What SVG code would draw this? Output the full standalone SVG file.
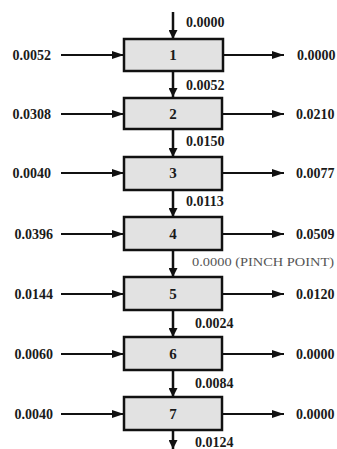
<svg xmlns="http://www.w3.org/2000/svg" width="337" height="449" viewBox="0 0 337 449">
<defs>
<marker id="ah" viewBox="0 0 12 8" refX="12" refY="4" markerWidth="12" markerHeight="8" markerUnits="userSpaceOnUse" orient="auto">
<path d="M0,0 L12,4 L0,8 Z" fill="#111"/>
</marker>
<marker id="av" viewBox="0 0 10 10" refX="10" refY="5" markerWidth="11" markerHeight="9" markerUnits="userSpaceOnUse" orient="auto">
<path d="M0,0 L10,5 L0,10 Z" fill="#111"/>
</marker>
</defs>
<style>
.box{fill:#e2e2e2;stroke:#111;stroke-width:2.5}
.lnk{stroke:#111;stroke-width:2;fill:none}
.v{stroke:#111;stroke-width:2.5;fill:none}
text{font-family:"Liberation Serif","Times New Roman",serif;font-weight:bold;font-size:14px;fill:#1a1a1a}
.num{text-anchor:middle;font-size:15px}
.l{text-anchor:end}
.pinch{font-weight:normal;font-size:12.5px;fill:#555}
</style>
<rect width="337" height="449" fill="#fff"/>
<g id="connectors">
<line class="v" x1="173" y1="12" x2="173" y2="39" marker-end="url(#av)"/>
<line class="v" x1="173" y1="71" x2="173" y2="97" marker-end="url(#av)"/>
<line class="v" x1="173" y1="129" x2="173" y2="157" marker-end="url(#av)"/>
<line class="v" x1="173" y1="190" x2="173" y2="217" marker-end="url(#av)"/>
<line class="v" x1="173" y1="250" x2="173" y2="277" marker-end="url(#av)"/>
<line class="v" x1="173" y1="310" x2="173" y2="337" marker-end="url(#av)"/>
<line class="v" x1="173" y1="370" x2="173" y2="397" marker-end="url(#av)"/>
<line class="v" x1="173" y1="430" x2="173" y2="449" marker-end="url(#av)"/>
<line class="lnk" x1="61" y1="55" x2="124" y2="55" marker-end="url(#ah)"/>
<line class="lnk" x1="61" y1="114" x2="124" y2="114" marker-end="url(#ah)"/>
<line class="lnk" x1="61" y1="173" x2="124" y2="173" marker-end="url(#ah)"/>
<line class="lnk" x1="61" y1="234" x2="124" y2="234" marker-end="url(#ah)"/>
<line class="lnk" x1="61" y1="294" x2="124" y2="294" marker-end="url(#ah)"/>
<line class="lnk" x1="61" y1="354" x2="124" y2="354" marker-end="url(#ah)"/>
<line class="lnk" x1="61" y1="414" x2="124" y2="414" marker-end="url(#ah)"/>
<line class="lnk" x1="223" y1="55" x2="284" y2="55" marker-end="url(#ah)"/>
<line class="lnk" x1="223" y1="114" x2="284" y2="114" marker-end="url(#ah)"/>
<line class="lnk" x1="223" y1="173" x2="284" y2="173" marker-end="url(#ah)"/>
<line class="lnk" x1="223" y1="234" x2="284" y2="234" marker-end="url(#ah)"/>
<line class="lnk" x1="223" y1="294" x2="284" y2="294" marker-end="url(#ah)"/>
<line class="lnk" x1="223" y1="354" x2="284" y2="354" marker-end="url(#ah)"/>
<line class="lnk" x1="223" y1="414" x2="284" y2="414" marker-end="url(#ah)"/>
</g>
<g id="n1"><rect class="box" x="124" y="39" width="99" height="32"/><text class="num" x="173" y="60">1</text></g>
<g id="n2"><rect class="box" x="124" y="98" width="98" height="31"/><text class="num" x="173" y="119">2</text></g>
<g id="n3"><rect class="box" x="124" y="157" width="98" height="33"/><text class="num" x="173" y="178">3</text></g>
<g id="n4"><rect class="box" x="124" y="217" width="98" height="33"/><text class="num" x="173" y="239">4</text></g>
<g id="n5"><rect class="box" x="124" y="277" width="98" height="33"/><text class="num" x="173" y="299">5</text></g>
<g id="n6"><rect class="box" x="124" y="337" width="98" height="33"/><text class="num" x="173" y="359">6</text></g>
<g id="n7"><rect class="box" x="124" y="397" width="98" height="33"/><text class="num" x="173" y="419">7</text></g>
<g id="labels">
<text x="186" y="27">0.0000</text>
<text x="186" y="90">0.0052</text>
<text x="186" y="146">0.0150</text>
<text x="186" y="206">0.0113</text>
<text class="pinch" x="192" y="266" textLength="142" lengthAdjust="spacingAndGlyphs">0.0000 (PINCH POINT)</text>
<text x="195" y="328">0.0024</text>
<text x="195" y="388">0.0084</text>
<text x="195" y="447">0.0124</text>
<text class="l" x="51" y="60">0.0052</text>
<text class="l" x="51" y="119">0.0308</text>
<text class="l" x="51" y="178">0.0040</text>
<text class="l" x="53" y="239">0.0396</text>
<text class="l" x="53" y="299">0.0144</text>
<text class="l" x="53" y="359">0.0060</text>
<text class="l" x="53" y="419">0.0040</text>
<text x="297" y="60">0.0000</text>
<text x="296" y="119">0.0210</text>
<text x="296" y="178">0.0077</text>
<text x="296" y="239">0.0509</text>
<text x="296" y="299">0.0120</text>
<text x="296" y="359">0.0000</text>
<text x="296" y="419">0.0000</text>
</g>
</svg>
